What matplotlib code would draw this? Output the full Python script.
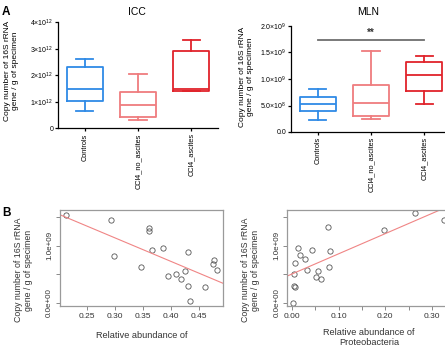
import matplotlib
matplotlib.use("Agg")
import matplotlib.pyplot as plt
import numpy as np

plt.rcParams['font.family'] = ['Liberation Sans', 'DejaVu Sans']
plt.rcParams['mathtext.fontset'] = 'custom'
plt.rcParams['mathtext.rm'] = 'Liberation Sans'
plt.rcParams['mathtext.default'] = 'regular'

# DATA
groups = ["Controls", "CCl4_no_ascites", "CCl4_ascites"]
group_colors = ["#2f8ae6", "#ef7c7e", "#e0232b"]

# ICC box stats (copies / g)
icc_min = [0.67e12, 0.31e12, 1.40e12]
icc_q1 = [1.03e12, 0.45e12, 1.43e12]
icc_med = [1.50e12, 0.88e12, 1.50e12]
icc_q3 = [2.33e12, 1.37e12, 2.93e12]
icc_max = [2.64e12, 2.07e12, 3.33e12]
icc_ticks = [0, 1e12, 2e12, 3e12, 4e12]
icc_ticklabels = ["0", "1×10$^{12}$", "2×10$^{12}$", "3×10$^{12}$", "4×10$^{12}$"]

# MLN box stats
mln_min = [0.23e9, 0.25e9, 0.53e9]
mln_q1 = [0.395e9, 0.31e9, 0.78e9]
mln_med = [0.52e9, 0.55e9, 1.07e9]
mln_q3 = [0.665e9, 0.88e9, 1.33e9]
mln_max = [0.805e9, 1.53e9, 1.43e9]
mln_ticks = [0, 0.5e9, 1.0e9, 1.5e9, 2.0e9]
mln_ticklabels = ["0.0", "5.0×10$^{8}$", "1.0×10$^{9}$", "1.5×10$^{9}$", "2.0×10$^{9}$"]
mln_sig_level = 1.745e9

# scatter panels
bact_abund = [0.212, 0.292, 0.298, 0.345, 0.360, 0.361, 0.366, 0.386, 0.394, 0.409,
              0.417, 0.425, 0.429, 0.429, 0.433, 0.460, 0.474, 0.477, 0.482]
bact_copies = [1.55e9, 1.45e9, 0.82e9, 0.63e9, 1.32e9, 1.26e9, 0.93e9, 0.96e9, 0.46e9, 0.51e9,
               0.42e9, 0.55e9, 0.89e9, 0.30e9, 0.02e9, 0.28e9, 0.68e9, 0.75e9, 0.57e9]
proteo_abund = [0.0035, 0.005, 0.007, 0.005, 0.008, 0.0135, 0.0178, 0.029, 0.032, 0.044,
                0.0526, 0.057, 0.0626, 0.078, 0.080, 0.082, 0.197, 0.264, 0.326]
proteo_copies = [0.0, 0.30e9, 0.27e9, 0.51e9, 0.69e9, 0.96e9, 0.83e9, 0.76e9, 0.57e9, 0.93e9,
                 0.45e9, 0.55e9, 0.42e9, 1.33e9, 0.62e9, 0.90e9, 1.27e9, 1.57e9, 1.46e9]

ylab = "Copy number of 16S rRNA\ngene / g of specimen"

W, H = 445, 345
fig = plt.figure(figsize=(W / 100, H / 100), dpi=100)


def rect(l, t, r, b):
    return [l / W, 1 - b / H, (r - l) / W, (b - t) / H]


def box_panel(ax, mins, q1s, meds, q3s, maxs, ticks, ticklabels, ylim):
    stats = []
    for i in range(len(groups)):
        stats.append(dict(whislo=mins[i], q1=q1s[i], med=meds[i], q3=q3s[i],
                          whishi=maxs[i], fliers=[]))
    out = ax.bxp(stats, positions=range(len(groups)), widths=0.68, capwidths=0.32,
                 showfliers=False)
    for i, c in enumerate(group_colors):
        for art in [out['boxes'][i], out['medians'][i], out['whiskers'][2 * i],
                    out['whiskers'][2 * i + 1], out['caps'][2 * i], out['caps'][2 * i + 1]]:
            art.set_color(c)
            art.set_linewidth(1.3)
    ax.set_xlim(-0.5, 2.5)
    ax.set_ylim(*ylim)
    ax.spines['top'].set_visible(False)
    ax.spines['right'].set_visible(False)
    for s in ['left', 'bottom']:
        ax.spines[s].set_linewidth(0.9)
    ax.set_yticks(ticks)
    ax.set_yticklabels(ticklabels, fontsize=5)
    ax.set_xticks(range(len(groups)))
    ax.set_xticklabels(groups, rotation=90, fontsize=5.3)
    ax.tick_params(length=2.5, width=0.9, pad=1)


axA1 = fig.add_axes(rect(58, 22.5, 218, 128.5))
box_panel(axA1, icc_min, icc_q1, icc_med, icc_q3, icc_max, icc_ticks, icc_ticklabels, (0, 4e12))
axA2 = fig.add_axes(rect(291, 26, 451, 132))
box_panel(axA2, mln_min, mln_q1, mln_med, mln_q3, mln_max, mln_ticks, mln_ticklabels, (0, 2e9))
axA2.plot([0, 2], [mln_sig_level, mln_sig_level], color="#6e6e6e", lw=1.3)
axA2.text(1, mln_sig_level * 1.015, "**", ha='center', va='bottom', fontsize=7, fontweight='bold',
          color="#333333")

fig.text(137 / W, 1 - 12 / H, "ICC", ha='center', va='center', fontsize=7.5)
fig.text(368 / W, 1 - 12 / H, "MLN", ha='center', va='center', fontsize=7.5)
fig.text(11.5 / W, 1 - 71 / H, ylab, rotation=90, ha='center', va='center', fontsize=6)
fig.text(246 / W, 1 - 77 / H, ylab, rotation=90, ha='center', va='center', fontsize=6)
fig.text(2 / W, 1 - 12 / H, "A", fontsize=8.5, fontweight='bold', va='center')
fig.text(2 / W, 1 - 213 / H, "B", fontsize=8.5, fontweight='bold', va='center')


def scatter_panel(ax, x, y, xlim, xticks, xticklabels):
    ax.plot(x, y, 'o', mfc='none', mec='#555555', ms=3.8, mew=0.6)
    k, b = np.polyfit(x, y, 1)
    xs = np.array(xlim)
    ax.plot(xs, k * xs + b, color='#f08585', lw=0.8)
    ax.set_xlim(*xlim)
    ax.set_ylim(-0.055e9, 1.63e9)
    for s in ax.spines.values():
        s.set_color('#9a9a9a')
        s.set_linewidth(0.9)
    ax.set_yticks([0, 0.5e9, 1.0e9, 1.5e9])
    ax.set_yticklabels(["0.0e+00", "", "1.0e+09", ""], rotation=90, va='center', fontsize=5.8,
                       color='#333333')
    ax.set_xticks(xticks)
    ax.set_xticklabels(xticklabels, fontsize=6, color='#333333')
    ax.tick_params(length=3, width=0.7, color='#8a8a8a', pad=2)


axB1 = fig.add_axes(rect(60, 210, 222.7, 305.7))
scatter_panel(axB1, bact_abund, bact_copies, (0.2012, 0.4918),
              [0.25, 0.30, 0.35, 0.40, 0.45], ["0.25", "0.30", "0.35", "0.40", "0.45"])
axB2 = fig.add_axes(rect(287.3, 210, 450.4, 305.7))
scatter_panel(axB2, proteo_abund, proteo_copies, (-0.0094, 0.339),
              [0.0, 0.05, 0.10, 0.15, 0.20, 0.25, 0.30],
              ["0.00", "", "0.10", "", "0.20", "", "0.30"])

fig.text(23.5 / W, 1 - 270 / H, ylab, rotation=90, ha='center', va='center', fontsize=6.3,
         color='#333333')
fig.text(250.5 / W, 1 - 270 / H, ylab, rotation=90, ha='center', va='center', fontsize=6.3,
         color='#333333')
fig.text(141.5 / W, 1 - 335 / H, "Relative abundance of", ha='center', va='center', fontsize=6.6,
         color='#333333')
fig.text(369 / W, 1 - 328 / H, "Relative abundance of\nProteobacteria", ha='center', va='top',
         fontsize=6.6, color='#333333', linespacing=1.2)

fig.savefig("out.png", dpi=100)
